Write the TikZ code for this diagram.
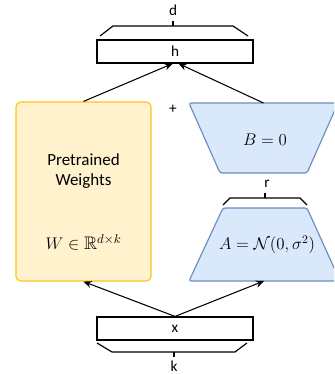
\documentclass[tikz,border=0pt]{standalone}
\usepackage{amsmath,amssymb}
\usepackage{fontspec}
\setmainfont{Carlito}
\usetikzlibrary{positioning,arrows.meta}
\definecolor{wf}{HTML}{FFF2CC}
\definecolor{wd}{HTML}{FFC31A}
\definecolor{lf}{HTML}{DAE8FC}
\definecolor{ld}{HTML}{6C8EBF}

\begin{document}
\begin{tikzpicture}[
  x=0.03cm, y=-0.03cm,
  font=\fontsize{13}{15}\selectfont,
  vecbox/.style={draw, line width=1pt, fill=white, minimum width=156*0.03cm,
                 minimum height=23*0.03cm, inner sep=0pt},
  weights/.style={draw=wd, fill=wf, line width=1pt, rounded corners=4pt,
                  minimum width=135*0.03cm, minimum height=179*0.03cm},
  lowrank/.style={draw=ld, fill=lf, line width=1pt, rounded corners=2pt},
  brace/.style={line width=1pt},
  mth/.style={font=\fontsize{14.5}{17}\selectfont},
  arr/.style={-{Stealth[length=7pt, width=6pt]}, line width=0.9pt},
]
\path[use as bounding box, clip] (0,0) rectangle (334,374);

% ---------- vectors ----------
\node[vecbox] (h) at (175,51.5) {h};
\node[vecbox] (x) at (175,328.5) {x};

% ---------- pretrained weights ----------
\node[weights] (W) at (83.5,191.5) {};
\node[align=center, font=\fontsize{14.5}{17}\selectfont] (wtxt) at (83.5,171) {Pretrained\\Weights};
\node[mth, font=\fontsize{15.5}{18}\selectfont] (wmath) at (83.5,242) {$W \in \mathbb{R}^{d\times k}$};

% ---------- low rank ----------
\draw[lowrank] (189,103) -- (338,103) -- (307,173) -- (220,173) -- cycle;
\coordinate (Btop) at (263.5,103);
\node[mth] (B) at (265,140) {$B = 0$};
\draw[lowrank] (223,208) -- (307,208) -- (340,281) -- (189,281) -- cycle;
\coordinate (Abot) at (264,281);
\node[mth, font=\fontsize{14}{17}\selectfont] (A) at (267,245) {$A = \mathcal{N}(0, \sigma^2)$};
\node (plus) at (173,109) {+};

% ---------- braces ----------
\draw[brace] (100,36) -- (113,26) -- (233,26) -- (248,36);
\draw[brace] (173,26) -- (173,21);
\node (d) at (173,10) {d};
\draw[brace] (223,205) -- (230,198) -- (300,198) -- (307,205);
\draw[brace] (265,198) -- (265,193);
\node (r) at (267,184) {r};
\draw[brace] (97,343) -- (112,352) -- (235,352) -- (247,343);
\draw[brace] (174,352) -- (174,357);
\node (k) at (174,366) {k};

% ---------- arrows ----------
\draw[arr] (x.north) -- (W.south);
\draw[arr] (x.north) -- (Abot);
\draw[arr] (W.north) -- ([xshift=-2pt]h.south);
\draw[arr] (Btop) -- ([xshift=3pt]h.south);
\end{tikzpicture}
\end{document}
